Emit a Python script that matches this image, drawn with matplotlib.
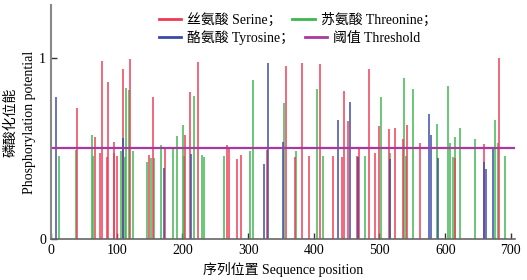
import matplotlib
matplotlib.use("Agg")
import matplotlib.pyplot as plt
from matplotlib.lines import Line2D

plt.rcParams['font.family'] = ['Liberation Serif', 'Noto Sans CJK SC']
plt.rcParams['font.size'] = 10

serine_pos = [40.1, 66.6, 74.6, 78.1, 84.8, 87.2, 95.4, 96.4, 101.2, 109.1, 120.2,
              149.5, 155.6, 172.9, 203.8, 211.4, 223.1, 267.2, 271.1, 283.3, 288.9,
              328.9, 358.4, 371, 382.1, 392.2, 410, 429.2, 442.9, 445.4, 451.5,
              465.7, 468.7, 483.4, 493.6, 498.6, 513.8, 523, 535.6, 541.6, 560.9,
              615.6, 658.7, 682.1]
serine_val = [0.724, 0.56, 0.476, 0.982, 0.45, 0.865, 0.536, 0.475, 0.455, 0.935, 0.995,
              0.463, 0.784, 0.509, 0.573, 0.812, 0.977, 0.518, 0.509, 0.439, 0.463,
              0.49, 0.953, 0.45, 0.971, 0.457, 0.964, 0.457, 0.45, 0.817, 0.65,
              0.457, 0.494, 0.935, 0.476, 0.623, 0.604, 0.61, 0.549, 0.628, 0.531,
              0.444, 0.523, 1.0]

threonine_pos = [11.9, 37.7, 62.9, 64.4, 107, 112.6, 114.1, 118.2, 124.3, 146.5, 152.6,
                 157.1, 166.9, 185.1, 192.1, 200.3, 202.3, 217.9, 229.6, 233.1, 263.5,
                 303, 307.1, 354.7, 373.6, 404.9, 414, 478.4, 502.7, 515.3, 536.6,
                 540.7, 550.8, 587.8, 603.9, 608, 611.6, 614.2, 621.8, 646, 675.4,
                 679.9, 691.6]
threonine_val = [0.457, 0.49, 0.575, 0.455, 0.487, 0.454, 0.834, 0.821, 0.487, 0.426, 0.444,
                 0.444, 0.518, 0.494, 0.567, 0.628, 0.457, 0.79, 0.463, 0.45, 0.457,
                 0.487, 0.876, 0.751, 0.487, 0.826, 0.457, 0.457, 0.784, 0.476, 0.89,
                 0.457, 0.826, 0.632, 0.843, 0.531, 0.45, 0.56, 0.61, 0.549, 0.655,
                 0.531, 0.457]

tyrosine_pos = [8.2, 110, 171.9, 212.9, 324.9, 331, 352.7, 436.3, 454.6, 466.7,
                516.4, 575.1, 578.7, 588.7, 659.3, 662.3, 673.4]
tyrosine_val = [0.784, 0.556, 0.39, 0.468, 0.413, 0.973, 0.536, 0.655, 0.753, 0.45,
                0.439, 0.687, 0.573, 0.444, 0.426, 0.384, 0.494]

threshold = 0.5
x_ticks = [0, 100, 200, 300, 400, 500, 600, 700]
y_ticks = [0, 1]

lab_ser = '丝氨酸 Serine；'
lab_thr = '苏氨酸 Threonine；'
lab_tyr = '酪氨酸 Tyrosine；'
lab_th = '阈值 Threshold'

c_ser = '#f03a55'
c_thr = '#3fb650'
c_tyr = '#3b4aa6'
c_th = '#a8399f'

fig = plt.figure(figsize=(5.27, 2.80), dpi=100)
ax = fig.add_axes([0.0966, 0.1464, 0.8804, 0.8356])

lw = 1.2
ax.vlines(threonine_pos, 0, threonine_val, color=c_thr, lw=lw, alpha=0.9)
ax.vlines(serine_pos, 0, serine_val, color=c_ser, lw=lw, alpha=0.9)
ax.vlines(tyrosine_pos, 0, tyrosine_val, color=c_tyr, lw=lw, alpha=0.9)
ax.axhline(threshold, color=c_th, lw=1.6)

ax.set_xlim(0, 706)
ax.set_ylim(0, 1.29)
ax.set_xticks(x_ticks)
ax.set_yticks(y_ticks)
ax.tick_params(direction='in', length=4, width=1, colors='#333333', labelcolor='black', labelsize=10)
for s in ['top', 'right']:
    ax.spines[s].set_visible(False)
ax.spines['left'].set_color('#888888')
ax.spines['left'].set_linewidth(1.5)
ax.spines['bottom'].set_color('#666666')
ax.spines['bottom'].set_linewidth(1.2)

ax.set_xlabel('序列位置 Sequence position', fontsize=10, labelpad=4)
ax.set_ylabel('磷酸化位能\nPhosphorylation potential', fontsize=10, labelpad=2, linespacing=1.55)

common = dict(ncol=2, frameon=False, loc='center left', fontsize=10,
              handlelength=1.6, handletextpad=0.45, columnspacing=0.75,
              borderpad=0, borderaxespad=0, bbox_transform=fig.transFigure)
leg1 = ax.legend([Line2D([], [], color=c_ser, lw=2), Line2D([], [], color=c_thr, lw=2)],
                 [lab_ser, lab_thr], bbox_to_anchor=(159 / 527, 1 - 20 / 280), **common)
ax.add_artist(leg1)
ax.legend([Line2D([], [], color=c_tyr, lw=2), Line2D([], [], color=c_th, lw=2)],
          [lab_tyr, lab_th], bbox_to_anchor=(159 / 527, 1 - 38 / 280), **common)

fig.savefig('out.png', dpi=100)
